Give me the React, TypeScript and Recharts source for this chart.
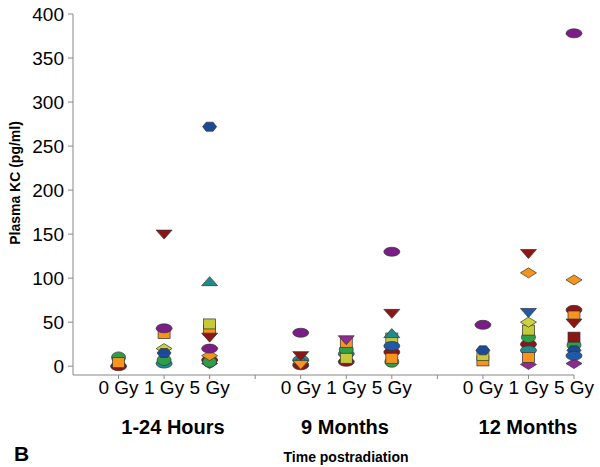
import React from 'react';
import { ScatterChart, Scatter, XAxis, YAxis } from 'recharts';

// x positions: 1..3 = 1-24 Hours, 5..7 = 9 Months, 9..11 = 12 Months (4 and 8 are separators)
const positions = [1, 2, 3, 5, 6, 7, 9, 10, 11];
const doseLabels = ['0 Gy', '1 Gy', '5 Gy', '0 Gy', '1 Gy', '5 Gy', '0 Gy', '1 Gy', '5 Gy'];
const groupLabels = ['1-24 Hours', '9 Months', '12 Months'];
const yTicks = [0, 50, 100, 150, 200, 250, 300, 350, 400];

// values per series, one per position (null = no marker of that kind there)
const darkRedEllipse = [0, null, 7, 1, 5, 16, null, 25, 64];
const purpleDiamond = [null, null, 3, null, null, null, null, 2, 3];
const tealEllipse = [null, 3, null, 7, 14, null, null, 18, null];
const greenCircle = [10, 7, 5, null, 19, 5, null, 33, 24];
const orangeSquare = [4, 37, 41, null, 27, 9, 6, 10, 57];
const yellowSquare = [null, null, 48, null, 9, 32, 12, 41, null];
const yellowDiamond = [null, 20, null, null, null, null, null, 50, null];
const blueHexagon = [null, 15, 272, null, null, null, 18, null, 18];
const blueEllipse = [null, null, null, null, null, 23, null, null, 12];
const tealTriangleUp = [null, null, 96, 7, null, 37, null, null, null];
const orangeTriangleDown = [null, null, null, 2, null, null, null, null, null];
const darkRedSquare = [null, null, null, null, null, null, null, null, 33];
const orangeDiamond = [null, null, 12, null, null, null, null, 106, 98];
const darkRedTriangleDown = [null, 150, 33, 12, null, 60, null, 128, 49];
const purpleTriangleDown = [null, null, null, null, 30, null, null, null, null];
const blueTriangleDown = [null, null, null, null, null, null, null, 61, null];
const purpleEllipse = [null, 43, 20, 38, null, 130, 47, null, 378];

type Kind = 'ellipse' | 'circle' | 'hexagon' | 'up' | 'down' | 'diamond' | 'square';

const series: { name: string; kind: Kind; fill: string; values: (number | null)[] }[] = [
  { name: 'darkRedEllipse', kind: 'ellipse', fill: '#8c1515', values: darkRedEllipse },
  { name: 'purpleDiamond', kind: 'diamond', fill: '#8e2a92', values: purpleDiamond },
  { name: 'tealEllipse', kind: 'ellipse', fill: '#1f8c95', values: tealEllipse },
  { name: 'greenCircle', kind: 'circle', fill: '#2f9e48', values: greenCircle },
  { name: 'orangeSquare', kind: 'square', fill: '#f7941d', values: orangeSquare },
  { name: 'yellowSquare', kind: 'square', fill: '#c6c93a', values: yellowSquare },
  { name: 'yellowDiamond', kind: 'diamond', fill: '#cfd23c', values: yellowDiamond },
  { name: 'blueHexagon', kind: 'hexagon', fill: '#1d4a96', values: blueHexagon },
  { name: 'blueEllipse', kind: 'ellipse', fill: '#1f5aa8', values: blueEllipse },
  { name: 'tealTriangleUp', kind: 'up', fill: '#1e8a8a', values: tealTriangleUp },
  { name: 'orangeTriangleDown', kind: 'down', fill: '#f7941d', values: orangeTriangleDown },
  { name: 'darkRedSquare', kind: 'square', fill: '#8c1515', values: darkRedSquare },
  { name: 'orangeDiamond', kind: 'diamond', fill: '#f7941d', values: orangeDiamond },
  { name: 'darkRedTriangleDown', kind: 'down', fill: '#8c1515', values: darkRedTriangleDown },
  { name: 'purpleTriangleDown', kind: 'down', fill: '#8e2a92', values: purpleTriangleDown },
  { name: 'blueTriangleDown', kind: 'down', fill: '#1f5aa8', values: blueTriangleDown },
  { name: 'purpleEllipse', kind: 'ellipse', fill: '#7b1d87', values: purpleEllipse },
];

const toPoints = (values: (number | null)[]) =>
  values
    .map((v, i) => (v === null ? null : { x: positions[i], y: v }))
    .filter((p) => p !== null) as { x: number; y: number }[];

function Marker({ cx, cy, kind, fill }: { cx: number; cy: number; kind: Kind; fill: string }) {
  const stroke = '#333';
  const sw = 0.7;
  if (cx == null || cy == null) return null;
  switch (kind) {
    case 'ellipse':
      return <ellipse cx={cx} cy={cy} rx={8} ry={4.5} fill={fill} stroke={stroke} strokeWidth={sw} />;
    case 'circle':
      return <ellipse cx={cx} cy={cy} rx={7} ry={5.5} fill={fill} stroke={stroke} strokeWidth={sw} />;
    case 'hexagon':
      return (
        <polygon
          points={`${cx - 7},${cy} ${cx - 3.5},${cy - 4.5} ${cx + 3.5},${cy - 4.5} ${cx + 7},${cy} ${cx + 3.5},${cy + 4.5} ${cx - 3.5},${cy + 4.5}`}
          fill={fill}
          stroke={stroke}
          strokeWidth={sw}
        />
      );
    case 'up':
      return (
        <polygon
          points={`${cx - 8},${cy + 4} ${cx + 8},${cy + 4} ${cx},${cy - 5}`}
          fill={fill}
          stroke={stroke}
          strokeWidth={sw}
        />
      );
    case 'down':
      return (
        <polygon
          points={`${cx - 8},${cy - 4} ${cx + 8},${cy - 4} ${cx},${cy + 5}`}
          fill={fill}
          stroke={stroke}
          strokeWidth={sw}
        />
      );
    case 'diamond':
      return (
        <polygon
          points={`${cx - 8},${cy} ${cx},${cy - 5} ${cx + 8},${cy} ${cx},${cy + 5}`}
          fill={fill}
          stroke={stroke}
          strokeWidth={sw}
        />
      );
    default:
      return <rect x={cx - 6} y={cy - 5} width={12} height={10} fill={fill} stroke={stroke} strokeWidth={sw} />;
  }
}

const xTickFormatter = (v: number) => {
  const i = positions.indexOf(v);
  return i >= 0 ? doseLabels[i] : '';
};

const font = '"Liberation Sans", Arial, sans-serif';

export default function App() {
  return (
    <div style={{ position: 'absolute', left: 0, top: 0, width: 600, height: 467, background: '#fff', fontFamily: font }}>
      <ScatterChart width={600} height={467} margin={{ top: 14, right: 26, left: 0, bottom: 62 }}>
        <XAxis
          type="number"
          dataKey="x"
          domain={[0, 11]}
          ticks={[1, 2, 3, 4, 5, 6, 7, 8, 9, 10, 11]}
          tickFormatter={xTickFormatter}
          interval={0}
          height={30}
          stroke="#888"
          tickSize={4}
          tickMargin={2}
          tick={{ fill: '#000', fontSize: 19, fontFamily: font }}
        />
        <YAxis
          type="number"
          dataKey="y"
          domain={[-10, 400]}
          ticks={yTicks}
          width={73}
          stroke="#888"
          tickSize={5}
          tickMargin={4}
          tick={{ fill: '#000', fontSize: 19, fontFamily: font }}
        />
        {series.map((s) => (
          <Scatter
            key={s.name}
            name={s.name}
            data={toPoints(s.values)}
            isAnimationActive={false}
            shape={(p: any) => <Marker cx={p.cx} cy={p.cy} kind={s.kind} fill={s.fill} />}
          />
        ))}
      </ScatterChart>
      <svg width={600} height={467} style={{ position: 'absolute', left: 0, top: 0, pointerEvents: 'none' }}>
        <text
          x={15}
          y={183}
          transform="rotate(-90 15 183)"
          textAnchor="middle"
          dominantBaseline="central"
          fontSize={14}
          fontWeight="bold"
          fontFamily={font}
        >
          Plasma KC (pg/ml)
        </text>
        {groupLabels.map((g, i) => (
          <text
            key={g}
            x={[173, 345, 528][i]}
            y={427}
            textAnchor="middle"
            dominantBaseline="central"
            fontSize={20}
            fontWeight="bold"
            fontFamily={font}
          >
            {g}
          </text>
        ))}
        <text x={346} y={457} textAnchor="middle" dominantBaseline="central" fontSize={14} fontWeight="bold" fontFamily={font}>
          Time postradiation
        </text>
        <text x={14} y={453} dominantBaseline="central" fontSize={21} fontWeight="bold" fontFamily={font}>
          B
        </text>
      </svg>
    </div>
  );
}
